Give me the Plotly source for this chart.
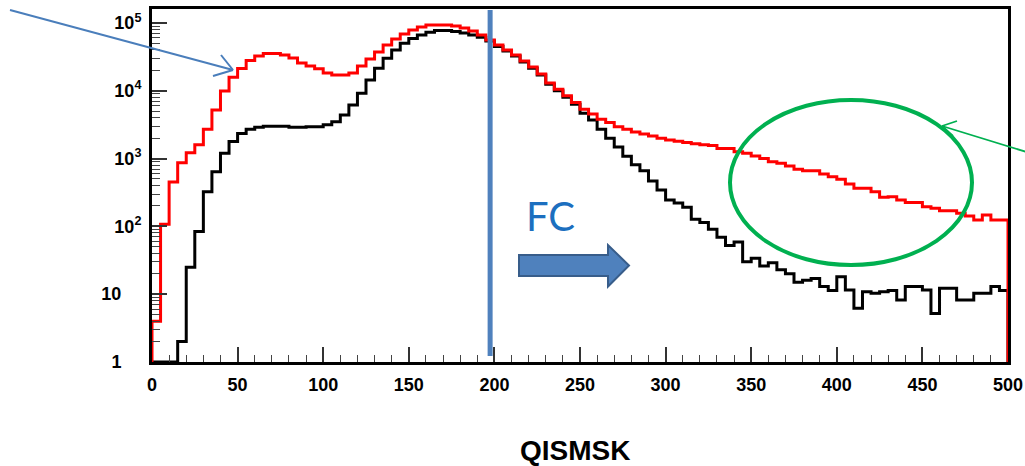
import numpy as np
import plotly.graph_objects as go

# ---------------- data ----------------
bin_width = 5
n_bins = 100
x_min, x_max = 0, 500

red_counts = [
    4, 107, 450, 870, 1220, 1600, 2700, 5200, 9900, 15800,
    21300, 28000, 32600, 35500, 35500, 33700, 30500, 25700, 23200, 21000,
    18300, 17100, 17100, 18300, 23200, 29400, 37300, 47300, 58000, 68800,
    78900, 87200, 93400, 93400, 93400, 90300, 84400, 76000, 66500, 56200,
    47300, 40000, 33700, 27500, 22400, 17700, 13000, 10500, 8400, 6700,
    5350, 4550, 3800, 3400, 2950, 2700, 2460, 2300, 2150, 2000,
    1870, 1800, 1720, 1650, 1600, 1560, 1410, 1410, 1260, 1200,
    1090, 1000, 900, 850, 777, 695, 662, 662, 593, 541,
    495, 422, 365, 365, 325, 269, 274, 245, 224, 224,
    195, 185, 170, 170, 156, 142, 124, 147, 124, 124,
]

black_counts = [
    0, 0, 0, 2, 25, 84, 325, 640, 1200, 1780,
    2350, 2700, 2900, 3000, 3000, 3000, 2900, 2900, 2950, 2950,
    3150, 3500, 4400, 6150, 9150, 14400, 21400, 30000, 40000, 50000,
    59000, 66500, 73000, 77000, 77000, 74500, 71000, 66500, 61500, 54000,
    45000, 38500, 32500, 26500, 21500, 17000, 12500, 10000, 8000, 6300,
    4650, 3710, 2700, 1990, 1480, 1080, 813, 661, 467, 344,
    245, 221, 191, 127, 114, 91, 69, 52, 59, 30,
    34, 26, 29, 23, 20, 15, 16, 17, 13, 11.3,
    18, 11.5, 6.2, 10.9, 10.3, 10.9, 11.3, 8.2, 13, 13,
    11.5, 5.2, 12.2, 12.2, 8.2, 8.2, 10.3, 10.3, 13, 11.3,
]

y_tick_vals = [1, 10, 100, 1000, 10000, 100000]
y_tick_text = ["1" + "\u00a0" * 4, "10" + "\u00a0" * 4,
               "10<sup>2</sup>", "10<sup>3</sup>", "10<sup>4</sup>", "10<sup>5</sup>"]
x_tick_vals = [0, 50, 100, 150, 200, 250, 300, 350, 400, 450, 500]

fc_cut = 197.5
x_title = "QISMSK"
fc_label = "FC"

# ---------------- helpers ----------------
y_log_min, y_log_max = 0, 5.205
y_floor = 10 ** y_log_min

edges = np.linspace(x_min, x_max, n_bins + 1)


def step_xy(counts):
    c = np.maximum(np.asarray(counts, dtype=float), y_floor)
    xs = np.concatenate([[edges[0]], edges[:-1], [edges[-1]], [edges[-1]]])
    ys = np.concatenate([[y_floor], c, [c[-1]], [y_floor]])
    return xs, ys


# layout geometry (pixels)
W, H = 1025, 466
L, R, T, B = 152, 17, 9, 104
PW, PH = W - L - R, H - T - B


def px(xp):
    return (xp - L) / PW


def py(yp):
    return (H - B - yp) / PH


fig = go.Figure()

for counts, color in [(black_counts, "#000000"), (red_counts, "#FF0000")]:
    xs, ys = step_xy(counts)
    fig.add_trace(go.Scatter(x=xs, y=ys, mode="lines", line_shape="hv",
                             line=dict(color=color, width=3), hoverinfo="skip",
                             showlegend=False))

minor_vals = [m * 10 ** d for d in range(0, 6) for m in range(2, 10)]

tick_font = dict(family="Liberation Sans, Arial, sans-serif", size=18,
                 color="black", weight="bold")

fig.update_layout(
    width=W, height=H,
    margin=dict(l=L, r=R, t=T, b=B, autoexpand=False),
    paper_bgcolor="white", plot_bgcolor="white",
    showlegend=False,
    xaxis=dict(range=[x_min, x_max], tickvals=x_tick_vals, ticks="inside",
               ticklen=15, tickwidth=1.5, tickcolor="#333", automargin=False,
               showline=True, linecolor="black", linewidth=3, mirror=True,
               showgrid=False, zeroline=False, tickfont=tick_font,
               ticklabelstandoff=4,
               minor=dict(dtick=10, ticks="inside", ticklen=7, tickwidth=1.2,
                          tickcolor="#444", showgrid=False)),
    yaxis=dict(type="log", range=[y_log_min, y_log_max], tickvals=y_tick_vals,
               ticktext=y_tick_text, ticks="inside", ticklen=15, tickwidth=1.5,
               tickcolor="#333", showline=True, linecolor="black", linewidth=3,
               mirror=True, showgrid=False, zeroline=False, tickfont=tick_font,
               ticklabelstandoff=4, automargin=False,
               minor=dict(tickvals=minor_vals, ticks="inside", ticklen=8,
                          tickwidth=1.2, tickcolor="#444", showgrid=False)),
)

shapes = []
# FC cut line
shapes.append(dict(type="line", xref="x", yref="paper", x0=fc_cut, x1=fc_cut,
                   y0=py(356), y1=py(10), line=dict(color="#4F81BD", width=5),
                   layer="above"))

# blue pointer arrow (upper left)
blue = "#4A7EBB"
tip = (233, 70)
shapes.append(dict(type="line", xref="paper", yref="paper", x0=px(10), y0=py(10),
                   x1=px(tip[0]), y1=py(tip[1]), line=dict(color=blue, width=2)))
for a in [(213, 76), (221, 55)]:
    shapes.append(dict(type="line", xref="paper", yref="paper", x0=px(a[0]),
                       y0=py(a[1]), x1=px(tip[0]), y1=py(tip[1]),
                       line=dict(color=blue, width=2)))

# green ellipse + arrow
green = "#00B050"
shapes.append(dict(type="circle", xref="paper", yref="paper",
                   x0=px(730), x1=px(972), y0=py(265), y1=py(100),
                   line=dict(color=green, width=4)))
gtip = (942, 126)
shapes.append(dict(type="line", xref="paper", yref="paper", x0=px(1030), y0=py(153),
                   x1=px(gtip[0]), y1=py(gtip[1]), line=dict(color=green, width=1.8)))
for a in [(957, 121), (953, 136)]:
    shapes.append(dict(type="line", xref="paper", yref="paper", x0=px(a[0]),
                       y0=py(a[1]), x1=px(gtip[0]), y1=py(gtip[1]),
                       line=dict(color=green, width=1.8)))

# block arrow
pts = [(519, 255), (608, 255), (608, 245), (629, 265.5), (608, 286.5),
       (608, 276), (519, 276)]
path = "M " + " L ".join(f"{px(a):.5f},{py(b):.5f}" for a, b in pts) + " Z"
shapes.append(dict(type="path", xref="paper", yref="paper", path=path,
                   fillcolor="#4F81BD", line=dict(color="#385D8A", width=2)))

fig.update_layout(shapes=shapes)

fig.add_annotation(text=fc_label, xref="paper", yref="paper", x=px(550), y=py(216),
                   xanchor="center", yanchor="middle", showarrow=False,
                   font=dict(family="Lato, Open Sans, sans-serif", size=40,
                             color="#1C6FBF"))
fig.add_annotation(text=x_title, xref="paper", yref="paper", x=px(575), y=py(450),
                   xanchor="center", yanchor="middle", showarrow=False,
                   font=dict(family="Liberation Sans, Arial, sans-serif", size=28,
                             color="black", weight="bold"))

fig.write_html("out.html",
               config={"displayModeBar": False},
               post_script="document.body.style.margin='0px';"
                           "document.body.style.overflow='hidden';")
